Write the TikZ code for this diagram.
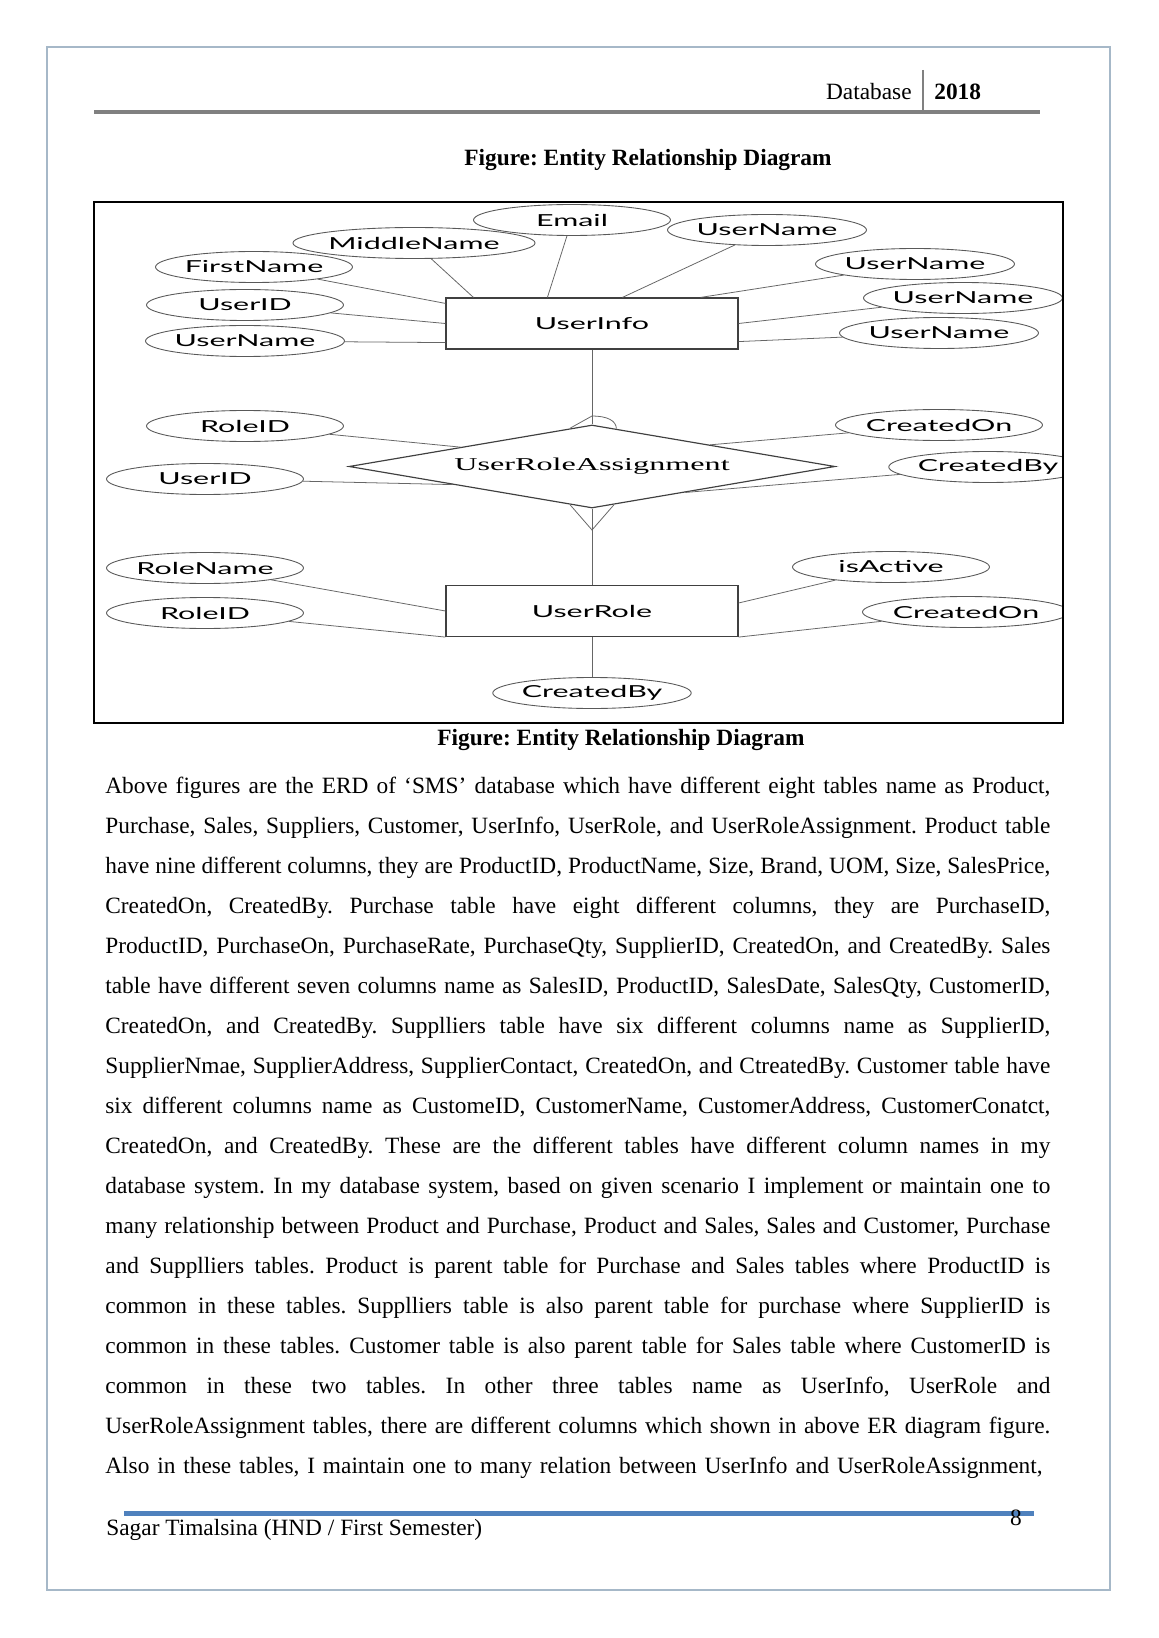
\documentclass[tikz,border=0pt]{standalone}
\usepackage{fontspec}
\setmainfont{Liberation Serif}
\newfontfamily\attrfont[FakeStretch=1.84]{Lato}
\newfontfamily\relfont[FakeStretch=1.78]{Liberation Serif}
\usepackage{xcolor}
\usetikzlibrary{positioning,shapes.geometric,calc}
\frenchspacing

\newlength{\px}
\setlength{\px}{0.51406pt}
\definecolor{pageframe}{RGB}{166,184,200}
\definecolor{headgray}{RGB}{128,128,128}
\definecolor{footblue}{RGB}{79,129,189}

\begin{document}
\begin{tikzpicture}[x=0.51406pt, y=-0.51406pt,
    attr/.style={ellipse, draw=black!65, line width=0.45pt, minimum width=197\px,
      minimum height=31\px, inner sep=0pt, font=\attrfont\fontsize{8.5pt}{10pt}\selectfont},
    entity/.style={rectangle, draw=black!75, line width=0.6pt, minimum width=292\px,
      minimum height=51\px, inner sep=0pt, font=\attrfont\fontsize{8.5pt}{10pt}\selectfont},
    relation/.style={diamond, aspect=5.86, draw=black!75, line width=0.6pt, minimum width=486\px,
      minimum height=83\px, inner sep=0pt, font=\relfont\fontsize{9.3pt}{11pt}\selectfont},
    link/.style={draw=black!60, line width=0.4pt},
    pagetext/.style={inner sep=0pt, font=\fontsize{12pt}{14pt}\selectfont},
    caption/.style={inner sep=0pt, anchor=base, font=\fontsize{12pt}{14pt}\selectfont\bfseries},
  ]
    \fill[white] (0,0) rectangle (1158,1638);
    \useasboundingbox (0,0) rectangle (1158,1638);

    % Page border
    \draw[pageframe, line width=0.8pt] (47,47) rectangle (1110,1590);

    % Header
    \draw[headgray, line width=2pt] (94,112) -- (1040,112);
    \draw[headgray, line width=1.2pt] (923,70) -- (923,110);
    \node[pagetext, anchor=base east] (hdrSubject) at (912,100) {Database};
    \node[pagetext, anchor=base west, font=\fontsize{12pt}{14pt}\selectfont\bfseries] (hdrYear) at (934,100) {2018};

    % Captions
    \node[caption] (capTop) at (648,166) {Figure: Entity Relationship Diagram};
    \node[caption] (capBot) at (621,745) {Figure: Entity Relationship Diagram};

    % ER diagram
    \begin{scope}
        \clip (94,202) rectangle (1063,723);

        \node[entity] (userInfo) at (592,323.5) {UserInfo};
        \node[relation] (roleAssign) at (592,466.5) {UserRoleAssignment};
        \node[entity] (userRole) at (592,611) {UserRole};

        % Attributes: name / x / y / label
        \foreach \nm/\x/\y/\lbl in {
            infoEmail/572/220/Email,
            infoMiddle/414/243/MiddleName,
            infoFirst/254/267/FirstName,
            infoId/245/305/UserID,
            infoName/245/341/UserName,
            infoNameA/767/230/UserName,
            infoNameB/915/264/UserName,
            infoNameC/963/298/UserName,
            infoNameD/939/333/UserName,
            asgRole/245/426/RoleID,
            asgUser/205/479/UserID,
            asgOn/939/425/CreatedOn,
            asgBy/988/467/CreatedBy,
            roleName/205/568/RoleName,
            roleId/205/613/RoleID,
            roleActive/891/567/isActive,
            roleOn/966/612/CreatedOn,
            roleBy/592/693/CreatedBy
        } {
            \node[attr] (\nm) at (\x,\y) {\lbl};
        }

        % UserInfo links
        \draw[link] (infoFirst) -- ($(userInfo.north west)+(0,6)$);
        \draw[link] (infoMiddle) -- ($(userInfo.north west)+(28,0)$);
        \draw[link] (infoEmail) -- ($(userInfo.north west)+(102,0)$);
        \draw[link] (infoNameA) -- ($(userInfo.north west)+(177,0)$);
        \draw[link] (infoNameB) -- ($(userInfo.north east)+(-38,0)$);
        \draw[link] (infoNameC) -- (userInfo.east);
        \draw[link] (infoNameD) -- ($(userInfo.south east)+(0,-8)$);
        \draw[link] (infoId) -- (userInfo.west);
        \draw[link] (infoName) -- ($(userInfo.south west)+(0,-7)$);

        % Relationship links
        \draw[link] (asgRole) -- ($(roleAssign.west)!0.46!(roleAssign.north)$);
        \draw[link] (asgUser) -- ($(roleAssign.west)!0.43!(roleAssign.south)$);
        \draw[link] (asgOn) -- ($(roleAssign.east)!0.515!(roleAssign.north)$);
        \draw[link] (asgBy) -- ($(roleAssign.east)!0.617!(roleAssign.south)$);

        % UserRole links
        \draw[link] (roleName) -- (userRole.west);
        \draw[link] (roleId) -- (userRole.south west);
        \draw[link] (roleActive) -- ($(userRole.east)+(0,-8)$);
        \draw[link] (roleOn) -- (userRole.south east);
        \draw[link] (userRole) -- (roleBy);

        % One side and many side
        \coordinate (oneTip) at (592,416);
        \coordinate (manyTip) at (592,530);
        \draw[link] (userInfo) -- (roleAssign);
        \draw[link] ($(roleAssign.north)!0.09!(roleAssign.west)$) -- (oneTip)
            .. controls +(15,0) and +(0,-8) .. ($(roleAssign.north)!0.1!(roleAssign.east)$);
        \draw[link] (roleAssign) -- (userRole);
        \draw[link] ($(roleAssign.south)!0.09!(roleAssign.west)$) -- (manyTip)
            -- ($(roleAssign.south)!0.09!(roleAssign.east)$);
    \end{scope}
    \draw[line width=0.9pt] (94,202) rectangle (1063,723);

    % Body text, one justified line each
    \foreach \txt [count=\i] in {
        {Above figures are the ERD of ‘SMS’ database which have different eight tables name as Product,},
        {Purchase, Sales, Suppliers, Customer, UserInfo, UserRole, and UserRoleAssignment. Product table},
        {have nine different columns, they are ProductID, ProductName, Size, Brand, UOM, Size, SalesPrice,},
        {CreatedOn, CreatedBy. Purchase table have eight different columns, they are PurchaseID,},
        {ProductID, PurchaseOn, PurchaseRate, PurchaseQty, SupplierID, CreatedOn, and CreatedBy. Sales},
        {table have different seven columns name as SalesID, ProductID, SalesDate, SalesQty, CustomerID,},
        {CreatedOn, and CreatedBy. Supplliers table have six different columns name as SupplierID,},
        {SupplierNmae, SupplierAddress, SupplierContact, CreatedOn, and CtreatedBy. Customer table have},
        {six different columns name as CustomeID, CustomerName, CustomerAddress, CustomerConatct,},
        {CreatedOn, and CreatedBy. These are the different tables have different column names in my},
        {database system. In my database system, based on given scenario I implement or maintain one to},
        {many relationship between Product and Purchase, Product and Sales, Sales and Customer, Purchase},
        {and Supplliers tables. Product is parent table for Purchase and Sales tables where ProductID is},
        {common in these tables. Supplliers table is also parent table for purchase where SupplierID is},
        {common in these tables. Customer table is also parent table for Sales table where CustomerID is},
        {common in these two tables. In other three tables name as UserInfo, UserRole and},
        {UserRoleAssignment tables, there are different columns which shown in above ER diagram figure.},
        {Also in these tables, I maintain one to many relation between UserInfo and UserRoleAssignment,}
    } {
        \pgfmathsetmacro{\yy}{793+40*(\i-1)}
        \node[pagetext, anchor=base west] (line\i) at (105,\yy) {\makebox[485.8pt][s]{\txt}};
    }

    % Footer
    \draw[footblue, line width=2.6pt] (124,1513.5) -- (1034,1513.5);
    \node[pagetext, anchor=base west] (ftAuthor) at (106,1535) {Sagar Timalsina (HND / First Semester)};
    \node[pagetext, anchor=base] (ftPage) at (1016,1525) {8};
\end{tikzpicture}
\end{document}
